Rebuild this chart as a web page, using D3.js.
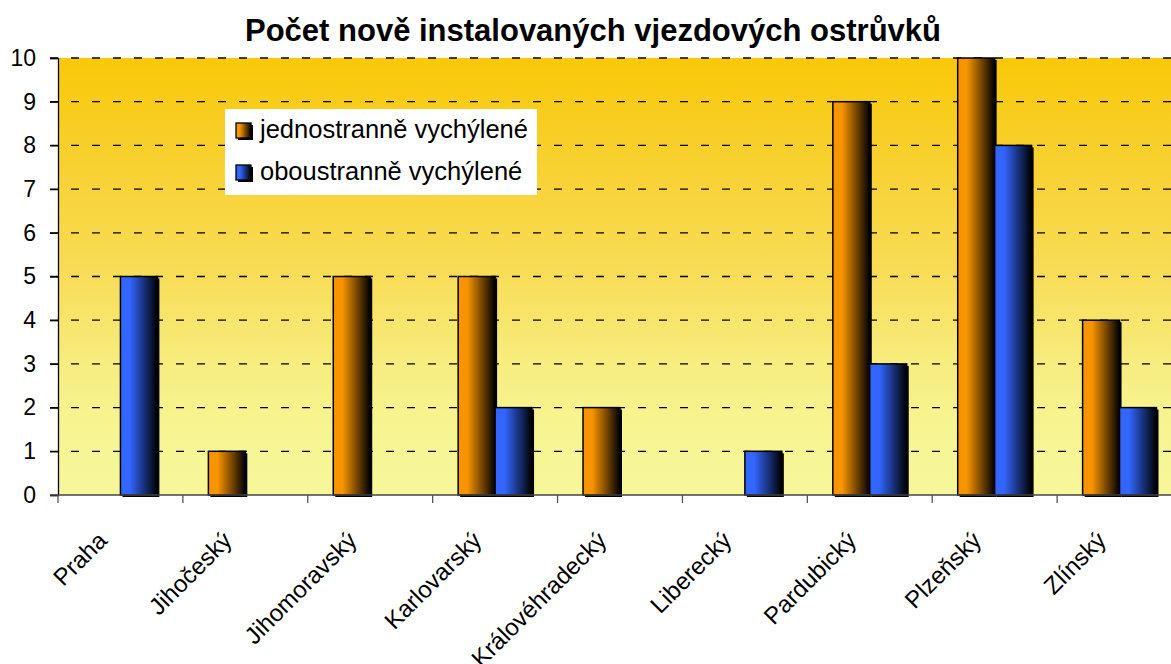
<!DOCTYPE html>
<html>
<head>
<meta charset="utf-8">
<script src="https://cdn.jsdelivr.net/npm/d3@7"></script>
<style>
  body { margin: 0; background: #fff; }
  svg { display: block; font-family: "Liberation Sans", Arial, sans-serif; }
</style>
</head>
<body>
<div id="chart"></div>
<script>
const categories = ['Praha', 'Jihočeský', 'Jihomoravský', 'Karlovarský', 'Královéhradecký',
  'Liberecký', 'Pardubický', 'Plzeňský', 'Zlínský'];
const seriesNames = ['jednostranně vychýlené', 'oboustranně vychýlené'];
const jednostranne = [0, 1, 5, 5, 2, 0, 9, 10, 4];
const oboustranne = [5, 0, 0, 2, 0, 1, 3, 8, 2];
const yTicks = [0, 1, 2, 3, 4, 5, 6, 7, 8, 9, 10];

const width = 1171, height = 664;
const margin = { top: 58, left: 58, bottom: 169 };
const plotW = 1124; // plot runs past the right edge of the picture
const plotH = height - margin.top - margin.bottom;

const svg = d3.select('#chart').append('svg')
  .attr('width', width)
  .attr('height', height);

const defs = svg.append('defs');
const bg = defs.append('linearGradient').attr('id', 'bg')
  .attr('x1', 0).attr('y1', 0).attr('x2', 0).attr('y2', 1);
[[0, '#f8c808'], [0.25, '#f8d132'], [0.5, '#f8dd58'], [0.72, '#f7ee82'], [0.85, '#f7f592'], [1, '#f6f79a']]
  .forEach(s => bg.append('stop').attr('offset', s[0]).attr('stop-color', s[1]));

const barColors = ['#f79400', '#3366ff'];
barColors.forEach((c, i) => {
  const g = defs.append('linearGradient').attr('id', 'bar' + i)
    .attr('x1', 0).attr('y1', 0).attr('x2', 1).attr('y2', 0);
  g.append('stop').attr('offset', 0).attr('stop-color', c);
  g.append('stop').attr('offset', 0.25).attr('stop-color', c);
  g.append('stop').attr('offset', 1).attr('stop-color', '#000');
});

const x = d3.scaleBand().domain(categories).range([0, plotW]).paddingInner(0).paddingOuter(0);
const x1 = d3.scaleBand().domain([0, 1]).range([0, x.bandwidth()]).paddingOuter(0.69).paddingInner(0);
const y = d3.scaleLinear().domain([0, 10]).range([plotH, 0]);

svg.append('text')
  .attr('x', 593).attr('y', 41)
  .attr('text-anchor', 'middle')
  .attr('font-size', 31).attr('font-weight', 'bold')
  .text('Počet nově instalovaných vjezdových ostrůvků');

const g = svg.append('g').attr('transform', `translate(${margin.left},${margin.top})`);

g.append('rect').attr('width', plotW).attr('height', plotH).attr('fill', 'url(#bg)');

// dashed grid
g.selectAll('.grid').data(yTicks.filter(d => d > 0)).enter().append('line')
  .attr('x1', -8).attr('x2', plotW)
  .attr('y1', d => y(d)).attr('y2', d => y(d))
  .attr('stroke', '#000').attr('stroke-width', 1.3)
  .attr('stroke-dasharray', '8,13');

// y axis
const yAxis = g.append('g').call(d3.axisLeft(y).tickValues(yTicks).tickSize(8).tickPadding(14));
yAxis.select('.domain').attr('stroke', '#000').attr('stroke-width', 1.3);
yAxis.selectAll('.tick line').attr('stroke', '#000').attr('stroke-width', 1.3);
yAxis.selectAll('.tick text').attr('font-size', 23).attr('fill', '#000')
  .attr('font-family', '"Liberation Sans", Arial, sans-serif');

// bars
const series = [jednostranne, oboustranne];
series.forEach((vals, si) => {
  const bars = g.append('g');
  const data = categories.map((c, i) => ({ c, v: vals[i] })).filter(d => d.v > 0);
  bars.selectAll('.shadow').data(data).enter().append('rect')
    .attr('x', d => x(d.c) + x1(si) + 2)
    .attr('y', d => y(d.v) + 2)
    .attr('width', x1.bandwidth())
    .attr('height', d => plotH - y(d.v))
    .attr('fill', '#000');
  bars.selectAll('.bar').data(data).enter().append('rect')
    .attr('x', d => x(d.c) + x1(si))
    .attr('y', d => y(d.v))
    .attr('width', x1.bandwidth())
    .attr('height', d => plotH - y(d.v))
    .attr('fill', `url(#bar${si})`)
    .attr('stroke', '#000').attr('stroke-width', 1.5);
});

// x axis
const xTicks = d3.range(categories.length + 1).map(i => i * x.bandwidth());
g.append('line').attr('x1', -8).attr('x2', plotW).attr('y1', plotH).attr('y2', plotH)
  .attr('stroke', '#444').attr('stroke-width', 1.5);
g.selectAll('.xtick').data(xTicks).enter().append('line')
  .attr('x1', d => d).attr('x2', d => d)
  .attr('y1', plotH).attr('y2', plotH + 8)
  .attr('stroke', '#555').attr('stroke-width', 1.3);
g.selectAll('.xlabel').data(categories).enter().append('text')
  .attr('transform', d => `translate(${x(d) + x.bandwidth() / 2 - 12},${plotH + 47}) rotate(-45)`)
  .attr('text-anchor', 'end')
  .attr('font-size', 24)
  .text(d => d);

// legend
const legend = svg.append('g').attr('transform', 'translate(225,109)');
legend.append('rect').attr('width', 312).attr('height', 86).attr('fill', '#fff');
seriesNames.forEach((name, i) => {
  const row = legend.append('g').attr('transform', `translate(11,${14 + i * 42})`);
  row.append('rect').attr('x', 2).attr('y', 2).attr('width', 15).attr('height', 15).attr('fill', '#000');
  row.append('rect').attr('x', 0).attr('y', 0).attr('width', 15).attr('height', 15)
    .attr('fill', `url(#bar${i})`).attr('stroke', '#000').attr('stroke-width', 1.3);
  row.append('text').attr('x', 24).attr('y', 15).attr('font-size', 25.5).text(name);
});
</script>
</body>
</html>
